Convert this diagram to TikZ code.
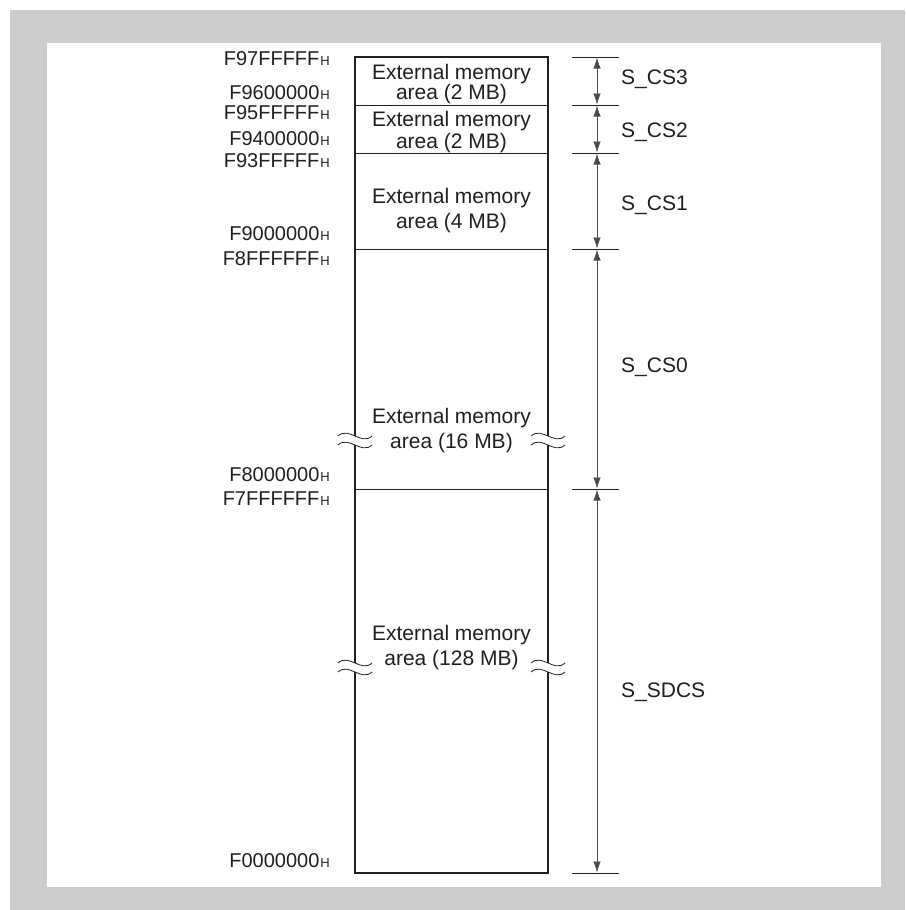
\documentclass[tikz,border=0pt]{standalone}
\usepackage{fontspec}
\setmainfont{Liberation Sans}
\usetikzlibrary{arrows.meta}
\definecolor{ink}{HTML}{231F20}
\begin{document}
\begin{tikzpicture}[x=1pt,y=-1pt,
  boxtxt/.style={font=\fontsize{21}{24}\selectfont, inner sep=0pt, anchor=base, text=ink},
  addr/.style={font=\fontsize{20}{22}\selectfont, inner sep=0pt, anchor=base east, text=ink},
  sig/.style={font=\fontsize{21}{24}\selectfont, inner sep=0pt, anchor=base west, text=ink},
  frame/.style={line width=2pt, draw=ink},
  divider/.style={line width=0.9pt, draw=ink},
  tick/.style={line width=0.9pt, draw=ink},
  dim/.style={{Latex[length=11pt,width=7.5pt]}-{Latex[length=11pt,width=7.5pt]}, line width=0.8pt, draw=black!70, fill=ink, shorten <=0.5pt, shorten >=0.5pt},
  brk/.pic={
    \fill[white] (-17,-4) .. controls (-6,-14) and (6,6) .. (17,-4) -- (17,5) .. controls (6,15) and (-6,-5) .. (-17,5) -- cycle;
    \draw[line width=0.8pt, ink] (-17,-4) .. controls (-6,-14) and (6,6) .. (17,-4);
    \draw[line width=0.8pt, ink] (-17,5) .. controls (-6,-5) and (6,15) .. (17,5);
  }
]
% background
\fill[white] (0,0) rectangle (905,910);
\fill[black!20] (10,10) rectangle (905,910);
\fill[white] (47,43) rectangle (881,887);
\useasboundingbox (0,0) rectangle (905,910);

% box corners and dividers
\coordinate (tl) at (355,57);
\coordinate (br) at (548,873);
\foreach \n/\y in {a/105, b/153, c/249, d/489} {
  \coordinate (\n L) at (355,\y);
  \coordinate (\n R) at (548,\y);
}
\draw[divider] (aL) -- (aR);
\draw[divider] (bL) -- (bR);
\draw[divider] (cL) -- (cR);
\draw[divider] (dL) -- (dR);
\draw[frame] (tl) rectangle (br);

% break marks
\pic at (355,440) {brk};
\pic at (548,440) {brk};
\pic at (355,667) {brk};
\pic at (548,667) {brk};

% box texts
\node[boxtxt] (t1a) at (451.5,79) {External memory};
\node[boxtxt] (t1b) at (451.5,99.5) {area (2 MB)};
\node[boxtxt] (t2a) at (451.5,126) {External memory};
\node[boxtxt] (t2b) at (451.5,148) {area (2 MB)};
\node[boxtxt] (t3a) at (451.5,203.5) {External memory};
\node[boxtxt] (t3b) at (451.5,228.5) {area (4 MB)};
\node[boxtxt] (t4a) at (451.5,423.5) {External memory};
\node[boxtxt] (t4b) at (451.5,448.5) {area (16 MB)};
\node[boxtxt] (t5a) at (451.5,640.5) {External memory};
\node[boxtxt] (t5b) at (451.5,665.5) {area (128 MB)};

% address labels
\newcommand{\hx}{\kern1pt{\fontsize{13}{14}\selectfont H}}
\foreach \nm/\y/\txt in {A1/65.2/F97FFFFF, A2/99.2/F9600000, A3/119.2/F95FFFFF, A4/145.7/F9400000,
  A5/167.7/F93FFFFF, A6/240.7/F9000000, A7/265.2/F8FFFFFF, A8/481.2/F8000000,
  A9/505.2/F7FFFFFF, A10/867.2/F0000000} {
  \node[addr] (\nm) at (330,\y) {\txt\hx};
}

% dimension ticks
\foreach \n/\y in {k0/57, k1/105, k2/153, k3/249, k4/489, k5/873} {
  \coordinate (\n L) at (572,\y);
  \coordinate (\n R) at (619,\y);
  \coordinate (\n) at (597,\y);
  \draw[tick] (\n L) -- (\n R);
}
\draw[dim] (k0) -- (k1);
\draw[dim] (k1) -- (k2);
\draw[dim] (k2) -- (k3);
\draw[dim] (k3) -- (k4);
\draw[dim] (k4) -- (k5);

% signal labels
\node[sig] (s3) at (621,84.5) {S\_CS3};
\node[sig] (s2) at (621,137.5) {S\_CS2};
\node[sig] (s1) at (621,210.5) {S\_CS1};
\node[sig] (s0) at (621,372.5) {S\_CS0};
\node[sig] (sd) at (621,697.5) {S\_SDCS};
\end{tikzpicture}
\end{document}
